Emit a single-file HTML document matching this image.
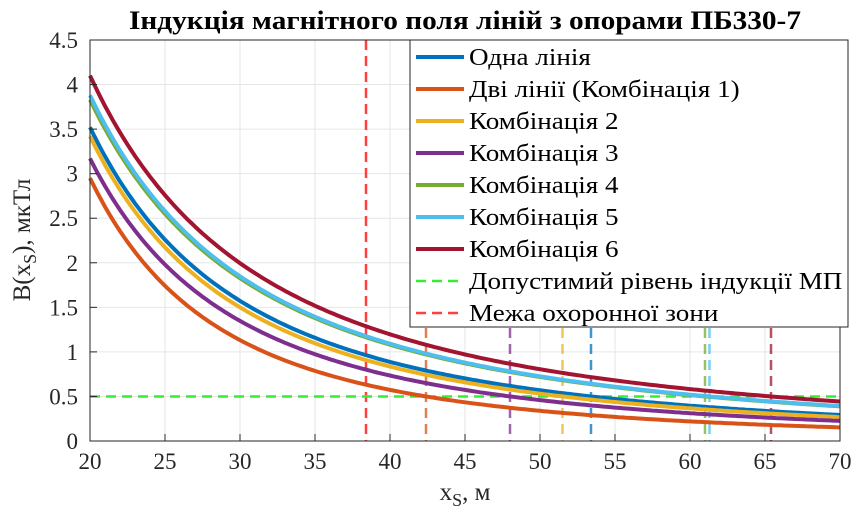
<!DOCTYPE html>
<html><head><meta charset="utf-8"><style>
body{margin:0;background:#fff}
svg{font-family:"Liberation Serif",serif}
</style></head><body>
<svg id="s" width="867" height="525" xmlns="http://www.w3.org/2000/svg">
<rect width="867" height="525" fill="#fff"/>
<g id="grid" stroke="#e6e6e6" stroke-width="1"></g>
<g id="curves" fill="none"></g>
<rect x="90" y="40" width="750" height="401" fill="none" stroke="#262626" stroke-width="1"/>
<g id="ticks" font-size="23" fill="#262626"></g>
<text x="465" y="29" text-anchor="middle" font-size="26" font-weight="bold" fill="#000" textLength="672" lengthAdjust="spacingAndGlyphs">Індукція магнітного поля ліній з опорами ПБ330-7</text>
<text x="465" y="500" text-anchor="middle" font-size="25" fill="#262626">x<tspan font-size="18" dy="6">S</tspan><tspan dy="-6">, м</tspan></text>
<text transform="translate(30,240) rotate(-90)" text-anchor="middle" font-size="25" fill="#262626">B(x<tspan font-size="18" dy="6">S</tspan><tspan dy="-6">), мкТл</tspan></text>
<g id="legend"></g>
</svg>
<script>
const X=v=>90+(v-20)*15, Y=v=>441-v*401/4.5;
const ns="http://www.w3.org/2000/svg";
function el(p,t,a,txt){const e=document.createElementNS(ns,t);for(const k in a)e.setAttribute(k,a[k]);if(txt!=null)e.textContent=txt;document.getElementById(p).appendChild(e);return e;}
for(let v=25;v<70;v+=5)el("grid","line",{x1:X(v),x2:X(v),y1:40,y2:441});
for(let v=0.5;v<4.5;v+=0.5)el("grid","line",{x1:90,x2:840,y1:Y(v),y2:Y(v)});
for(let v=20;v<=70;v+=5){el("ticks","text",{x:X(v),y:469,"text-anchor":"middle"},v);el("ticks","line",{x1:X(v),x2:X(v),y1:441,y2:434,stroke:"#262626"});}
for(let i=0;i<=9;i++){const v=i*0.5;el("ticks","text",{x:78,y:Y(v)+8,"text-anchor":"end"},String(v));el("ticks","line",{x1:90,x2:97,y1:Y(v),y2:Y(v),stroke:"#262626"});}
const S=[["#0072BD",3.52,53.4,"Одна лінія"],["#D95319",2.95,42.4,"Дві лінії (Комбінація 1)"],["#EDB120",3.42,51.5,"Комбінація 2"],["#7E2F8E",3.17,48,"Комбінація 3"],["#77AC30",3.83,61,"Комбінація 4"],["#4DBEEE",3.88,61.3,"Комбінація 5"],["#A2142F",4.1,65.4,"Комбінація 6"]];
S.forEach(s=>el("curves","line",{x1:X(s[2]),x2:X(s[2]),y1:40,y2:441,stroke:s[0],"stroke-opacity":0.75,"stroke-width":2.5,"stroke-dasharray":"10 6"}));
el("curves","line",{x1:X(38.4),x2:X(38.4),y1:40,y2:441,stroke:"#ff4040","stroke-width":2.5,"stroke-dasharray":"10 6"});
el("curves","line",{x1:90,x2:840,y1:Y(0.5),y2:Y(0.5),stroke:"#33ee33","stroke-width":2.5,"stroke-dasharray":"10 6"});
S.forEach(s=>{const n=Math.log(s[1]/0.5)/Math.log(s[2]/20);let d="";for(let x=20;x<=70.01;x+=0.25){d+=(d?"L":"M")+X(x).toFixed(1)+","+Y(s[1]*Math.pow(20/x,n)).toFixed(1);}el("curves","path",{d:d,stroke:s[0],"stroke-width":4});});
el("legend","rect",{x:410,y:40,width:438,height:287,fill:"#fff",stroke:"#262626"});
const L=S.map(s=>[s[0],s[3],false]).concat([["#33ee33","Допустимий рівень індукції МП",true],["#ff4040","Межа охоронної зони",true]]);
L.forEach((l,i)=>{const y=57+i*32;el("legend","line",{x1:416,x2:464,y1:y,y2:y,stroke:l[0],"stroke-width":l[2]?2.5:4,"stroke-dasharray":l[2]?"10 6":"none"});el("legend","text",{x:469,y:y+8,"font-size":24,fill:"#000",transform:"translate(469,0) scale(1.13,1) translate(-469,0)"},l[1]);});
</script>
</body></html>
